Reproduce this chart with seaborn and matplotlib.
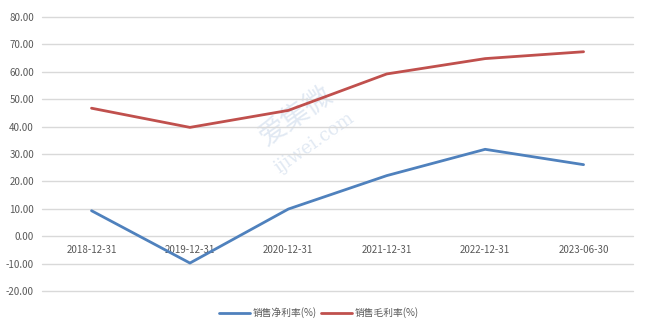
import matplotlib
matplotlib.use("Agg")
import matplotlib.pyplot as plt
import seaborn as sns
import pandas as pd

# Period-end dates and margin series (%)
dates = ["2018-12-31", "2019-12-31", "2020-12-31", "2021-12-31", "2022-12-31", "2023-06-30"]
net_margin = [9.3, -9.8, 9.9, 22.1, 31.7, 26.1]
gross_margin = [46.7, 39.7, 45.9, 59.2, 64.8, 67.3]
series_names = ["销售净利率(%)", "销售毛利率(%)"]
colors = ["#4F81BD", "#C0504D"]

df = pd.DataFrame({"date": dates * 2,
                   "value": net_margin + gross_margin,
                   "series": [series_names[0]] * len(dates) + [series_names[1]] * len(dates)})

sns.set_theme(style="white")
plt.rcParams["font.family"] = ["Noto Sans CJK SC", "DejaVu Sans"]

fig = plt.figure(figsize=(6.51, 3.29), dpi=100)
ax = fig.add_axes([0.065, 0.1155, 0.907, 0.833])

sns.lineplot(data=df, x="date", y="value", hue="series", palette=colors,
             linewidth=2.0, ax=ax, sort=False, legend=True)

ax.set_xlim(-0.5, len(dates) - 0.5)
ax.set_ylim(-20, 80)
ax.set_yticks(range(-20, 81, 10))
ax.set_yticklabels([f"{v:.2f}" for v in range(-20, 81, 10)])
ax.yaxis.grid(True, color="#D9D9D9", linewidth=1.0)
for gl in ax.yaxis.get_gridlines():
    gl.set_clip_on(False)
ax.set_axisbelow(True)
for s in ["left", "right", "top"]:
    ax.spines[s].set_visible(False)
ax.spines["bottom"].set_position(("data", 0))
ax.spines["bottom"].set_visible(False)
ax.tick_params(axis="both", length=0, labelsize=7, labelcolor="#595959")
ax.tick_params(axis="x", pad=6)
ax.tick_params(axis="y", pad=6)
ax.set_xlabel("")
ax.set_ylabel("")

# Faint watermark
ax.text(0.43, 0.64, "爱集微", transform=ax.transAxes, fontsize=20, color="#D5E0EE",
        alpha=0.7, rotation=35, ha="center", va="center", zorder=0)
ax.text(0.46, 0.54, "ijiwei.com", transform=ax.transAxes, fontsize=13, color="#D5E0EE",
        alpha=0.7, rotation=35, ha="center", va="center", zorder=0, family="DejaVu Serif")

handles, labels = ax.get_legend_handles_labels()
ax.get_legend().remove()
leg = fig.legend(handles, labels, loc="center", bbox_to_anchor=(0.49, 0.05), ncol=2,
                 frameon=False, fontsize=7, handlelength=3.2, columnspacing=0.4,
                 handletextpad=0.3, borderaxespad=0)
for t in leg.get_texts():
    t.set_color("#595959")
for h in leg.get_lines():
    h.set_linewidth(2.0)

fig.savefig("out.png", dpi=100)
